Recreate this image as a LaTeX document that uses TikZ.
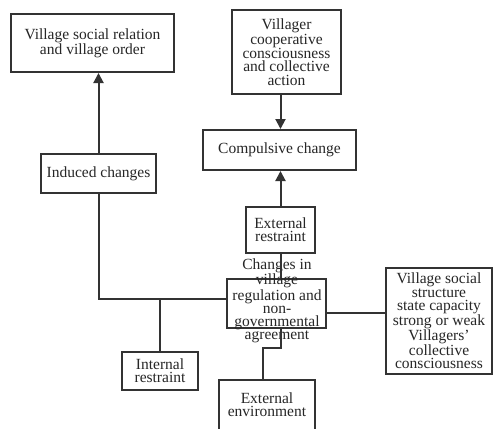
\documentclass[tikz,border=0pt]{standalone}
\usepackage{fontspec}
\setmainfont{Liberation Serif}
\usetikzlibrary{arrows.meta}
\tikzset{
  box/.style={draw=black!80, line width=2pt, fill=white, inner sep=0pt, align=center,
    font=\fontsize{15.5}{13.2}\selectfont, text=black!85},
  txt/.style={inner sep=0pt, align=center, font=\fontsize{15.5}{13.2}\selectfont, text=black!85},
  conn/.style={draw=black!80, line width=2pt},
  arr/.style={conn, -{Triangle[width=10pt,length=10pt]}}
}
\begin{document}
\begin{tikzpicture}[x=1pt,y=-1pt]
\useasboundingbox (0,0) rectangle (494,428);
\node[box, minimum width=163pt, minimum height=58pt] (vsr) at (92.5,43) {Village social relation\\and village order};
\node[box, minimum width=109pt, minimum height=84pt] (vcc) at (286.5,52) {Villager\\cooperative\\consciousness\\and collective\\action};
\node[box, minimum width=153pt, minimum height=40pt] (comp) at (279.5,150) {Compulsive change};
\node[box, minimum width=115pt, minimum height=39pt] (ind) at (98.5,173.5) {Induced changes};
\node[box, minimum width=69pt, minimum height=46pt] (extr) at (280.5,230) {External\\restraint};
\node[box, minimum width=99pt, minimum height=49pt] (cen) at (276.5,303.5) {};
\node[txt] (centxt) at (277,301) {Changes in\\village\\regulation and\\non-\\governmental\\agreement};
\node[box, minimum width=106pt, minimum height=106pt] (right) at (439,321) {Village social\\structure\\state capacity\\strong or weak\\Villagers'\\collective\\consciousness};
\node[box, minimum width=76pt, minimum height=38pt] (intr) at (160,371) {Internal\\restraint};
\node[box, minimum width=96pt, minimum height=50pt] (env) at (267,405) {External\\environment};

\coordinate (jl) at (98.5,299);
\coordinate (rw) at ([yshift=8pt]right.west);
\coordinate (k) at (263,348);

\draw[arr] (ind.north) -- (ind.north |- vsr.south);
\draw[conn] (ind.south) -- (jl) -- (jl -| cen.west);
\draw[conn] (intr.north) -- (intr.north |- jl);
\draw[arr] (extr.north |- vcc.south) -- (extr.north |- comp.north);
\draw[arr] (extr.north) -- (extr.north |- comp.south);
\draw[conn] (extr.south) -- (extr.south |- cen.north);
\draw[conn] (rw) -- (rw -| cen.east);
\draw[conn] (cen.south -| extr.south) |- (k) -- (k |- env.north);
\end{tikzpicture}
\end{document}
